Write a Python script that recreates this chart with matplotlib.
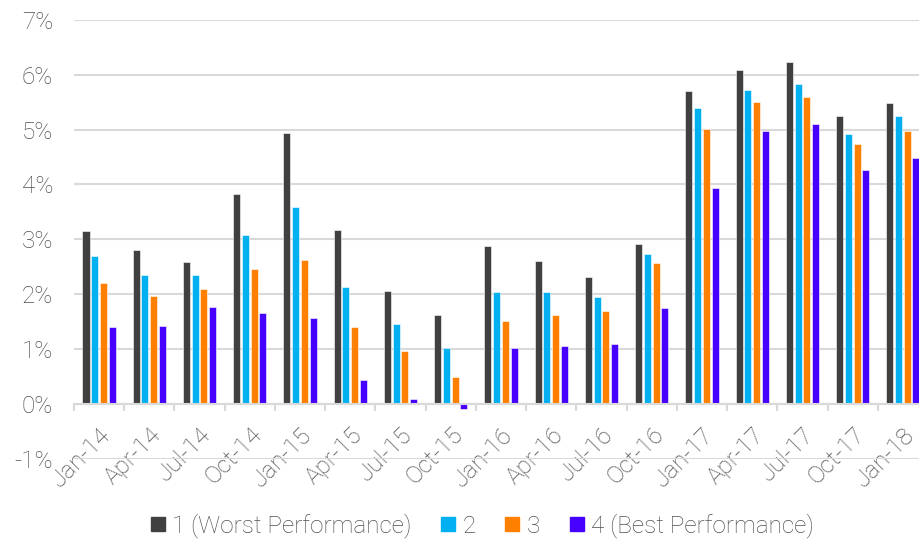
import matplotlib
matplotlib.use("Agg")
import matplotlib.pyplot as plt
from matplotlib.lines import Line2D
import numpy as np

# Quarterly periods
periods = ["Jan-14", "Apr-14", "Jul-14", "Oct-14", "Jan-15", "Apr-15", "Jul-15",
           "Oct-15", "Jan-16", "Apr-16", "Jul-16", "Oct-16", "Jan-17", "Apr-17",
           "Jul-17", "Oct-17", "Jan-18"]

# Values per performance quartile (%)
q1_worst = [3.15, 2.80, 2.58, 3.82, 4.94, 3.17, 2.05, 1.62, 2.87, 2.61, 2.31,
            2.92, 5.71, 6.09, 6.24, 5.25, 5.49]
q2 = [2.69, 2.34, 2.34, 3.07, 3.59, 2.12, 1.45, 1.01, 2.03, 2.04, 1.95,
      2.73, 5.40, 5.73, 5.83, 4.92, 5.24]
q3 = [2.21, 1.96, 2.10, 2.45, 2.63, 1.39, 0.96, 0.49, 1.50, 1.61, 1.70,
      2.57, 5.01, 5.51, 5.59, 4.73, 4.98]
q4_best = [1.40, 1.42, 1.76, 1.65, 1.56, 0.44, 0.09, -0.10, 1.01, 1.06, 1.08,
           1.74, 3.93, 4.97, 5.10, 4.26, 4.49]

series_names = ["1 (Worst Performance)", "2", "3", "4 (Best Performance)"]
y_ticks = [-1, 0, 1, 2, 3, 4, 5, 6, 7]

colors = ["#404040", "#00B0F0", "#FF8000", "#4600FF"]
text_color = "#505050"
grid_color = "#D9D9D9"
fs = 17.5

plt.rcParams["font.family"] = ["Roboto", "DejaVu Sans"]

fig = plt.figure(figsize=(9.19, 5.43), dpi=100)
ax = fig.add_axes([74 / 919, 84.5 / 543, (928 - 74) / 919, (458.5 - 20) / 543])

x = np.arange(len(periods))
bar_w = 0.14
offsets = [-0.261, -0.087, 0.087, 0.261]
for vals, off, col in zip([q1_worst, q2, q3, q4_best], offsets, colors):
    ax.bar(x + off, vals, width=bar_w, color=col, edgecolor="white",
           linewidth=0.4, zorder=3)

ax.set_xlim(-0.5, len(periods) - 0.5)
ax.set_ylim(-1, 7)
ax.set_yticks(y_ticks)
ax.set_yticklabels([f"{v}%" for v in y_ticks], fontsize=fs, color=text_color,
                   fontweight="light")
ax.yaxis.grid(True, color=grid_color, linewidth=1.5, zorder=0)
ax.tick_params(axis="y", length=0, pad=15)

for side in ["top", "right", "left"]:
    ax.spines[side].set_visible(False)
ax.spines["bottom"].set_position(("data", 0))
ax.spines["bottom"].set_color(grid_color)
ax.spines["bottom"].set_linewidth(1.5)
ax.spines["bottom"].set_zorder(4)

ax.set_xticks(x)
ax.set_xticklabels(periods, rotation=45, ha="right", rotation_mode="anchor",
                   fontsize=fs, color=text_color, fontweight="light")
ax.tick_params(axis="x", which="major", length=0, pad=14)
ax.set_xticks(np.arange(len(periods) + 1) - 0.5, minor=True)
ax.tick_params(axis="x", which="minor", length=5, width=1.5, color=grid_color,
               direction="out")

handles = [Line2D([], [], marker="s", linestyle="none", markersize=10,
                  markerfacecolor=c, markeredgecolor=c) for c in colors]
fig.legend(handles, series_names, loc="center", bbox_to_anchor=(481 / 919, 1 - 526 / 543),
           ncol=4, frameon=False, labelcolor=text_color,
           handletextpad=0.2, columnspacing=1.1, handlelength=0.8,
           prop={"weight": "light", "size": fs})

fig.savefig("out.png", dpi=100)
